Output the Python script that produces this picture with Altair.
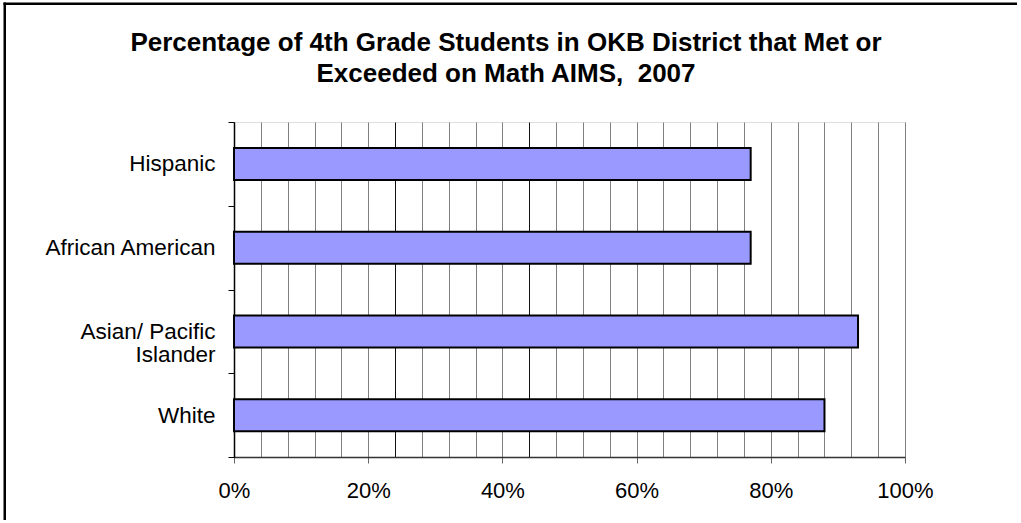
import altair as alt
import pandas as pd

# ---- data ----
groups = ["Hispanic", "African American", "Asian/ Pacific Islander", "White"]
pct = [0.77, 0.77, 0.93, 0.88]
label_ticks = [0.0, 0.2, 0.4, 0.6, 0.8, 1.0]
grid_ticks = [0.0, 0.04, 0.08, 0.12, 0.16, 0.2, 0.24, 0.28, 0.32, 0.36, 0.4,
              0.44, 0.48, 0.52, 0.56, 0.6, 0.64, 0.68, 0.72, 0.76, 0.8,
              0.84, 0.88, 0.92, 0.96, 1.0]
title_lines = ["Percentage of 4th Grade Students in OKB District that Met or",
               "Exceeded on Math AIMS,\u00a0 2007"]

df = pd.DataFrame({"group": groups, "pct": pct})

FONT = "Liberation Sans"
W, H = 671, 335

x_scale = alt.Scale(domain=[0, 1], nice=False, zero=True)
y_enc = alt.Y(
    "group:N",
    sort=groups,
    title=None,
    scale=alt.Scale(paddingInner=0, paddingOuter=0),
    axis=alt.Axis(
        tickBand="extent",
        tickSize=6,
        tickColor="black",
        domainColor="black",
        domainWidth=1.5,
        labelFont=FONT,
        labelFontSize=22.5,
        labelColor="black",
        labelPadding=13,
        labelLineHeight=23,
        labelLimit=300,
        labelExpr="datum.label == 'Asian/ Pacific Islander' ? ['Asian/ Pacific', 'Islander'] : datum.label",
    ),
)

bars = alt.Chart(df).mark_bar(
    size=32, color="#9999FF", stroke="black", strokeWidth=2
).encode(
    x=alt.X(
        "pct:Q",
        scale=x_scale,
        title=None,
        axis=alt.Axis(
            orient="bottom",
            values=grid_ticks,
            grid=True,
            gridColor={"condition": {"test": "abs(datum.value - 0.24) < 0.001 || abs(datum.value - 0.44) < 0.001",
                                     "value": "#111111"}, "value": "#808080"},
            gridWidth=1,
            labels=False,
            ticks=False,
            domain=False,
        ),
    ),
    y=y_enc,
)

label_axis = alt.Chart(df).mark_bar(size=32, opacity=0).encode(
    x=alt.X(
        "pct:Q",
        scale=x_scale,
        title=None,
        axis=alt.Axis(
            orient="bottom",
            values=label_ticks,
            format=".0%",
            grid=False,
            tickSize=6,
            tickColor="#666666",
            domainColor="#333333",
            domainWidth=1.5,
            labelFont=FONT,
            labelFontSize=22,
            labelColor="black",
            labelPadding=17,
            labelFlush=False,
        ),
    ),
    y=y_enc,
)

one = pd.DataFrame({"k": [0]})
frame_left = alt.Chart(one).mark_rect(color="black").encode(
    x=alt.value(-230.5), x2=alt.value(-228), y=alt.value(-119.5), y2=alt.value(398)
)
frame_top = alt.Chart(one).mark_rect(color="black").encode(
    y=alt.value(-119.5), y2=alt.value(-117), x=alt.value(-230.5), x2=alt.value(783)
)
title1 = alt.Chart(one).mark_text(
    font=FONT, fontSize=26, fontWeight="bold", color="black", align="center", baseline="alphabetic"
).encode(x=alt.value(272), y=alt.value(-71), text=alt.value(title_lines[0]))
title2 = alt.Chart(one).mark_text(
    font=FONT, fontSize=26, fontWeight="bold", color="black", align="center", baseline="alphabetic"
).encode(x=alt.value(272), y=alt.value(-40), text=alt.value(title_lines[1]))

chart = alt.layer(bars, label_axis, frame_left, frame_top, title1, title2).resolve_axis(
    x="independent"
).properties(
    width=W,
    height=H,
    autosize=alt.AutoSizeParams(type="none"),
    padding={"left": 234, "top": 122, "right": 116, "bottom": 66},
).configure_view(stroke="#808080", strokeWidth=1).configure(background="white")

chart.save("out.html", embed_options={"renderer": "svg", "actions": False})
